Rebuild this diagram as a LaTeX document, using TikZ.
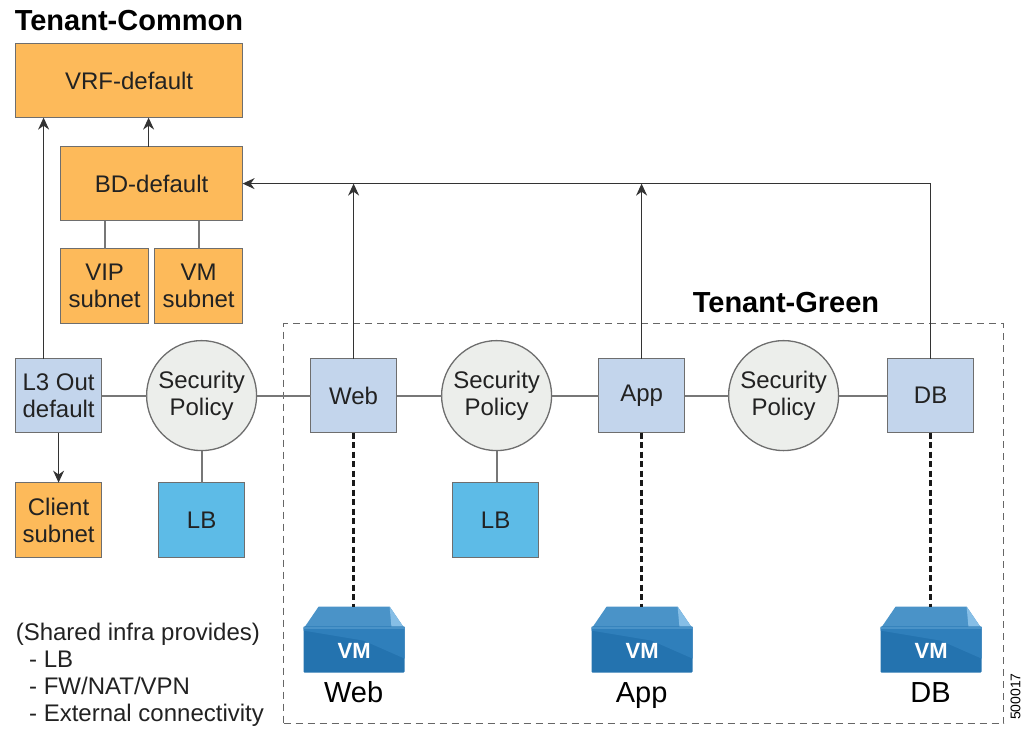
\documentclass[tikz,border=0pt]{standalone}
\usepackage{fontspec}
\setmainfont{Liberation Sans}
\usetikzlibrary{arrows.meta,calc}
\definecolor{orangebox}{HTML}{FDBA5A}
\definecolor{bluebox}{HTML}{C3D5EC}
\definecolor{lbblue}{HTML}{5DBBE7}
\definecolor{polgray}{HTML}{ECEEEB}
\definecolor{edgegray}{HTML}{6E6E6E}
\definecolor{linegray}{HTML}{777777}
\definecolor{txt}{HTML}{222222}
\definecolor{vmA}{HTML}{2F7FBB}
\definecolor{vmB}{HTML}{2473AF}
\definecolor{vmC}{HTML}{4A93C8}
\definecolor{vmD}{HTML}{86BEE6}
\tikzset{
  x=1pt,y=-1pt,
  boxbase/.style={draw=edgegray,line width=1.3pt,outer sep=0pt,anchor=north west,inner sep=0pt,align=center,text=txt,font=\fontsize{24}{27}\selectfont},
  orangenode/.style={boxbase,fill=orangebox},
  bluenode/.style={boxbase,fill=bluebox},
  lbnode/.style={boxbase,fill=lbblue},
  policy/.style={circle,draw=edgegray,fill=polgray,line width=1.3pt,outer sep=0pt,minimum size=110pt,inner sep=0pt,align=center,text=txt,font=\fontsize{24}{27}\selectfont},
  link/.style={draw=linegray,line width=1.9pt},
  arrowline/.style={draw=black!80,line width=1.2pt,-{Stealth[length=12pt,width=11pt]}},
  vmlink/.style={draw=black!90,line width=3.2pt,dash pattern=on 6pt off 3.5pt},
  heading/.style={font=\bfseries\fontsize{29}{33}\selectfont,text=black,anchor=west,inner sep=0pt},
  caption/.style={font=\fontsize{29}{33}\selectfont,text=black,inner sep=0pt,anchor=base},
  iconanchor/.style={inner sep=0pt,outer sep=0pt,minimum width=101pt,minimum height=66pt,anchor=north west},
}
\newcommand{\vmicon}[2]{%
  \node[iconanchor] (#2) at (#1,606) {};
  \begin{scope}[shift={(#1,606)}]
    \fill[vmC] (15,0) -- (86,0) -- (101,22) -- (0,22) -- cycle;
    \fill[vmD] (86,0) -- (101,22) -- (88,22) -- cycle;
    \fill[vmB,rounded corners=1pt] (0,20) -- (101,20) -- (101,66) -- (0,66) -- cycle;
    \fill[vmA] (0,20) -- (101,20) -- (101,52) -- (60,34) -- (0,24) -- cycle;
    \fill[vmC] (0,20) -- (101,20) -- (101,22) -- (0,22) -- cycle;
    \node[font=\bfseries\fontsize{22}{25}\selectfont,text=white,inner sep=0pt] at (50.5,44) {VM};
  \end{scope}
}
\begin{document}
\begin{tikzpicture}
\useasboundingbox (0,0) rectangle (1029,729);
\begin{scope}[shift={(0.6,0.6)}]
% dashed tenant frame
\node[draw=black!60,line width=1.4pt,dash pattern=on 7pt off 5pt,outer sep=0pt,anchor=north west,minimum width=720pt,minimum height=400pt,inner sep=0pt] (frame) at (283,323) {};
% headings
\node[heading] (tc) at (14,20) {Tenant-Common};
\node[heading] (tg) at (692,302) {Tenant-Green};
% orange boxes
\node[orangenode,minimum width=227pt,minimum height=74pt] (vrf) at (15,43) {VRF-default};
\node[orangenode,minimum width=182pt,minimum height=74pt] (bd) at (60,146) {BD-default};
\node[orangenode,minimum width=88pt,minimum height=75pt] (vip) at (60,248) {VIP\\subnet};
\node[orangenode,minimum width=88pt,minimum height=75pt] (vms) at (154,248) {VM\\subnet};
\node[orangenode,minimum width=86pt,minimum height=75pt] (client) at (15,482) {Client\\subnet};
% blue boxes
\node[bluenode,minimum width=86pt,minimum height=74pt] (l3) at (15,358) {L3 Out\\default};
\node[bluenode,minimum width=86pt,minimum height=74pt] (web) at (310,358) {Web};
\node[bluenode,minimum width=86pt,minimum height=74pt] (app) at (598,358) {App};
\node[bluenode,minimum width=86pt,minimum height=74pt] (db) at (887,358) {DB};
% LB
\node[lbnode,minimum width=86pt,minimum height=75pt] (lba) at (158,482) {LB};
\node[lbnode,minimum width=86pt,minimum height=75pt] (lbb) at (452,482) {LB};
% policies
\node[policy] (spa) at (201,395) {Security\\Policy};
\node[policy] (spb) at (496,395) {Security\\Policy};
\node[policy] (spc) at (783,395) {Security\\Policy};
% VM icons
\vmicon{303}{vmweb}
\vmicon{591}{vmapp}
\vmicon{880}{vmdb}
% captions
\node[caption] (capweb) at (353,702) {Web};
\node[caption] (capapp) at (641,702) {App};
\node[caption] (capdb) at (930,702) {DB};
\node[anchor=north west,align=left,inner sep=0pt,text=txt,font=\fontsize{24}{27}\selectfont] (infra) at (15,622) {(Shared infra provides)\\\ \ - LB\\\ \ - FW/NAT/VPN\\\ \ - External connectivity};
\node[rotate=90,font=\fontsize{14}{16}\selectfont,text=black,inner sep=0pt] (code) at (1015,696) {500017};
% plain links
\draw[link] (l3.east) -- (spa.west);
\draw[link] (spa.east) -- (web.west);
\draw[link] (web.east) -- (spb.west);
\draw[link] (spb.east) -- (app.west);
\draw[link] (app.east) -- (spc.west);
\draw[link] (spc.east) -- (db.west);
\draw[link] (spa.south) -- (spa.south |- lba.north);
\draw[link] (spb.south) -- (spb.south |- lbb.north);
\draw[link] (vip.north) -- (vip.north |- bd.south);
\draw[link] (vms.north) -- (vms.north |- bd.south);
% arrows
\draw[arrowline] ($(l3.north west)+(28,0)$) -- ($(vrf.south west)+(28,0)$);
\draw[arrowline] ($(bd.north west)+(88,0)$) -- ($(bd.north west)+(88,-29)$);
\draw[arrowline] ($(l3.south west)+(43,0)$) -- ($(client.north west)+(43,0)$);
\draw[arrowline] (web.north) -- (web.north |- bd.east);
\draw[arrowline] (app.north) -- (app.north |- bd.east);
\draw[arrowline] (db.north) |- (bd.east);
% dashed VM links
\draw[vmlink] (web.south) -- (web.south |- vmweb.north);
\draw[vmlink] (app.south) -- (app.south |- vmapp.north);
\draw[vmlink] (db.south) -- (db.south |- vmdb.north);
\end{scope}
\end{tikzpicture}
\end{document}
